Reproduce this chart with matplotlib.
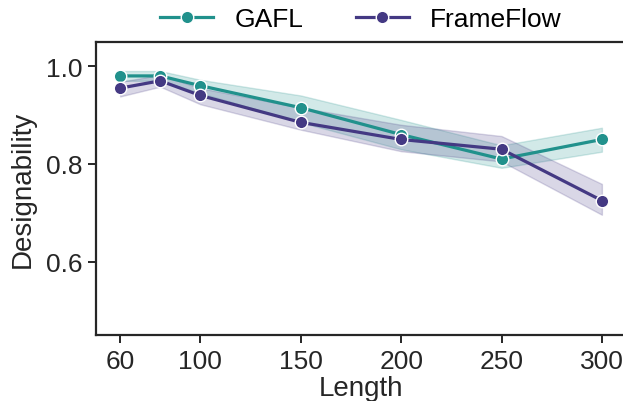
import matplotlib
matplotlib.use("Agg")
import matplotlib.pyplot as plt
import numpy as np

lengths = [60, 80, 100, 150, 200, 250, 300]

gafl_mean = [0.98, 0.98, 0.96, 0.915, 0.86, 0.81, 0.85]
gafl_lo = [0.970, 0.970, 0.945, 0.885, 0.830, 0.792, 0.825]
gafl_hi = [0.990, 0.990, 0.972, 0.940, 0.890, 0.838, 0.874]

ff_mean = [0.955, 0.97, 0.94, 0.885, 0.85, 0.83, 0.725]
ff_lo = [0.938, 0.958, 0.922, 0.870, 0.826, 0.805, 0.696]
ff_hi = [0.968, 0.982, 0.955, 0.915, 0.880, 0.857, 0.759]

xticks = [60, 100, 150, 200, 250, 300]
yticks = [0.6, 0.8, 1.0]

series = [
    ("GAFL", gafl_mean, gafl_lo, gafl_hi, "#21918c"),
    ("FrameFlow", ff_mean, ff_lo, ff_hi, "#443983"),
]

plt.rcParams['font.family'] = ['Liberation Sans', 'DejaVu Sans']

fig = plt.figure(figsize=(6.23, 4.02), dpi=100)
ax = fig.add_axes([96/623, 66/402, (626-96)/623, (336-42.7)/402])

for name, m, lo, hi, c in series:
    ax.fill_between(lengths, lo, hi, color=c, alpha=0.2, linewidth=1.0)
    ax.plot(lengths, m, color=c, lw=2.3, marker='o', markersize=9,
            markeredgecolor='white', markeredgewidth=1.0, label=name)

ax.set_xlim(48, 312)
ax.set_ylim(0.45, 1.05)
ax.set_xticks(xticks)
ax.set_yticks(yticks)
ax.tick_params(axis='both', labelsize=19, length=5.8, width=1.4,
               color='#262626', labelcolor='#262626', pad=4)
for s in ax.spines.values():
    s.set_linewidth(1.6)
    s.set_color('#262626')
ax.set_xlabel("Length", fontsize=20, color='#262626', labelpad=2)
ax.set_ylabel("Designability", fontsize=20, color='#262626', labelpad=7)

ax.legend(loc='lower center', bbox_to_anchor=(0.5, 1.0), ncol=2,
          frameon=False, fontsize=19, handlelength=2.0, columnspacing=2.0,
          borderaxespad=0.0, handletextpad=0.8)

fig.savefig("out.png", dpi=100)
